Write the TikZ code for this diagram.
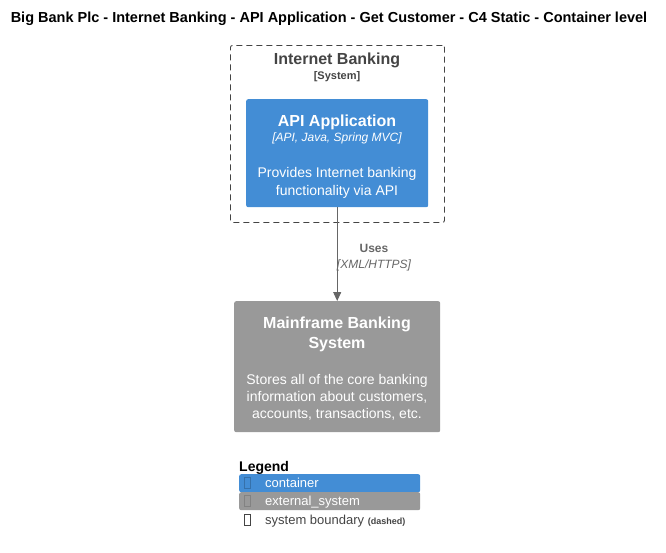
\documentclass[tikz,border=0pt]{standalone}
\usepackage{fontspec}
\setmainfont{Liberation Sans}
\usetikzlibrary{arrows.meta}

\definecolor{containerblue}{HTML}{438DD5}
\definecolor{extgray}{HTML}{999999}
\definecolor{boundgray}{HTML}{444444}
\definecolor{relgray}{HTML}{666666}

\tikzset{
  elembox/.style={rounded corners=2pt, inner sep=0pt, anchor=north west},
  bigtitle/.style={font=\fontsize{16}{20}\selectfont\bfseries, align=center},
  techline/.style={font=\fontsize{12}{14}\selectfont\itshape},
  descline/.style={font=\fontsize{14}{18}\selectfont, align=center, text=white},
  tofu/.style={draw, line width=0.5pt, minimum width=6pt, minimum height=11pt, inner sep=0pt},
  legendtext/.style={font=\fontsize{13}{15}\selectfont, anchor=base west}
}

\begin{document}
\begin{tikzpicture}[x=1pt,y=-1pt]
  \useasboundingbox (0,0) rectangle (666,552);
  \node[font=\fontsize{14.5}{17}\selectfont\bfseries] (title) at (329,19) {Big Bank Plc - Internet Banking - API Application - Get Customer - C4 Static - Container level};

  % system boundary
  \node[elembox, draw=boundgray, dash pattern=on 6pt off 4pt, line width=0.9pt, minimum width=214pt, minimum height=177pt] (boundary) at (230,45) {};
  \node[bigtitle, text=boundgray, anchor=base] (boundname) at (337,64) {Internet Banking};
  \node[font=\fontsize{11}{13}\selectfont\bfseries, text=boundgray, anchor=base] (boundtype) at (337,79) {[System]};

  % container
  \node[elembox, fill=containerblue, minimum width=182pt, minimum height=108pt] (api) at (246,99) {};
  \node[bigtitle, text=white, anchor=base] (apiname) at (337,126) {API Application};
  \node[techline, text=white, anchor=base] (apitech) at (337,141) {[API, Java, Spring MVC]};
  \node[descline, anchor=base] (apidesc) at (337,195) {Provides Internet banking\\functionality via API};

  % external system
  \node[elembox, fill=extgray, minimum width=206pt, minimum height=131pt] (mainframe) at (234,301) {};
  \node[bigtitle, text=white, anchor=base] (mfname) at (337,348) {Mainframe Banking\\System};
  \node[descline, anchor=base, font=\fontsize{14}{17}\selectfont] (mfdesc) at (337,418) {Stores all of the core banking\\information about customers,\\accounts, transactions, etc.};

  % relation
  \draw[relgray, line width=0.9pt, -{Triangle[width=8pt,length=9pt]}] (api.south) -- (mainframe.north);
  \node[font=\fontsize{12}{14}\selectfont\bfseries, text=relgray, anchor=base] (reluses) at (374,252) {Uses};
  \node[techline, text=relgray, anchor=base] (reltech) at (374,268) {[XML/HTTPS]};

  % legend
  \node[font=\fontsize{14}{16}\selectfont\bfseries, anchor=base west, inner sep=0pt] (legend) at (239,471) {Legend};
  \node[elembox, fill=containerblue, minimum width=181pt, minimum height=18pt] (legcont) at (239,474) {};
  \node[elembox, fill=extgray, minimum width=181pt, minimum height=18pt] (legext) at (239,492) {};
  \node[tofu, draw=containerblue!80!black] (tofua) at (247,483) {};
  \node[tofu, draw=extgray!85!black] (tofub) at (247,501) {};
  \node[tofu, draw=boundgray] (tofuc) at (247,520) {};
  \node[legendtext, text=white, inner sep=0pt] (legconttext) at (265,487) {container};
  \node[legendtext, text=white, inner sep=0pt] (legexttext) at (265,505) {external\_system};
  \node[legendtext, text=boundgray, inner sep=0pt] (legboundtext) at (265,524) {system boundary \fontsize{9}{10}\selectfont\bfseries(dashed)};
\end{tikzpicture}
\end{document}
